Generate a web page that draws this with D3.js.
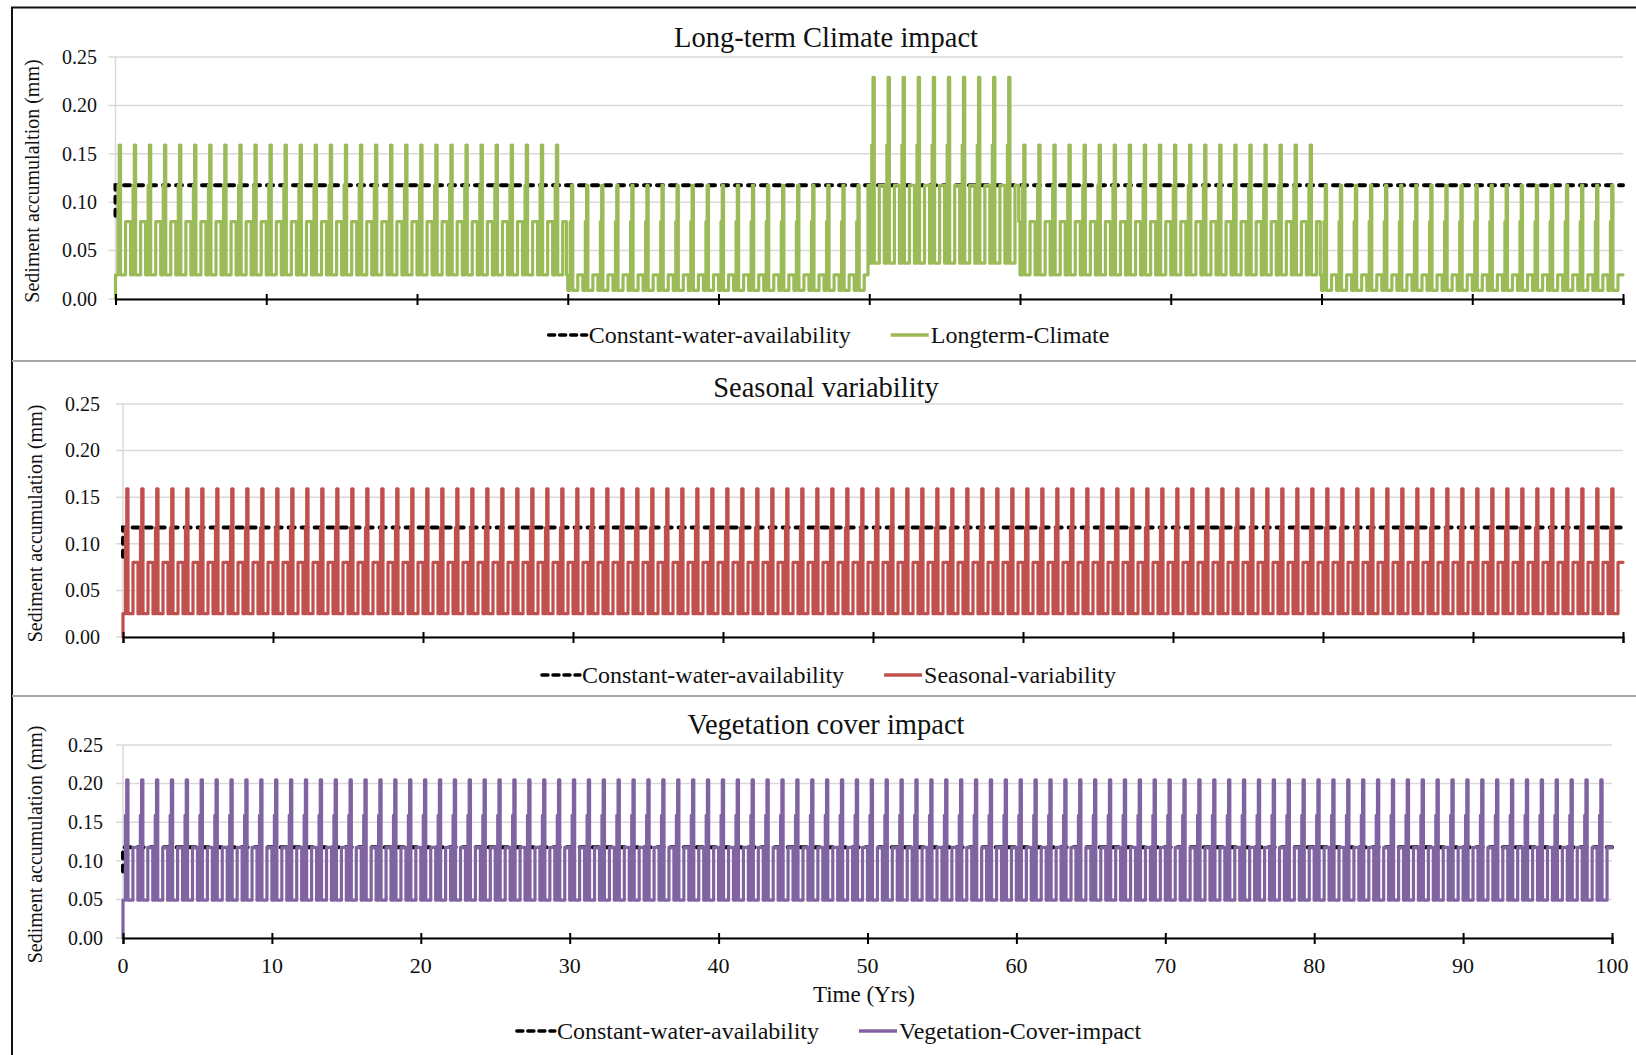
<!DOCTYPE html>
<html>
<head>
<meta charset="utf-8">
<script src="https://cdn.jsdelivr.net/npm/d3@7"></script>
<style>
  body { margin: 0; background: #fff; }
  svg { display: block; }
  text { font-family: "Liberation Serif", "Times New Roman", serif; fill: #111; }
</style>
</head>
<body>
<div id="chart"></div>
<script>
// axis ticks
const yearTicks = [0, 10, 20, 30, 40, 50, 60, 70, 80, 90, 100];
const sedimentTicks = [0, 0.05, 0.10, 0.15, 0.20, 0.25];

// one year of monthly samples, as level names
// L = dry low, M = plateau, S = shoulder, P = peak
const monthPattern = ["M", "L", "L", "S", "P", "L", "L", "L", "L", "M", "M", "M"];

// level values (mm) in the order L, M, S, P
const seasonalLevels = [0.025, 0.080, 0.1175, 0.159];
const dryLevels = [0.009, 0.025, 0.080, 0.1175];
const wetLevels = [0.037, 0.1175, 0.159, 0.229];
const vegetationLevels = [0.049, 0.1175, 0.159, 0.205];

// long-term climate: start year of each regime and which levels it uses
const climateBreaks = [0, 30, 50, 60, 80];
const climateRegimes = ["seasonal", "dry", "wet", "seasonal", "dry"];

const constantWater = 0.1175;
const constantStart = 0.086;
const firstValue = 0;
const nYears = 100;

const levelSets = { seasonal: seasonalLevels, dry: dryLevels, wet: wetLevels, vegetation: vegetationLevels };
const levelIndex = { L: 0, M: 1, S: 2, P: 3 };

function buildSeries(regimeOf) {
  const out = [{ t: 0, v: firstValue }];
  for (let k = 1; k <= nYears * 12; k++) {
    const yr = Math.min(Math.floor(k / 12), nYears - 1);
    const lv = levelSets[regimeOf(yr)];
    out.push({ t: k / 12, v: lv[levelIndex[monthPattern[k % 12]]] });
  }
  return out;
}
function buildConstant() {
  const out = [{ t: 0, v: constantStart }];
  for (let k = 1; k <= nYears * 12; k++) out.push({ t: k / 12, v: constantWater });
  return out;
}
function climateRegime(yr) {
  let r = climateRegimes[0];
  climateBreaks.forEach((b, i) => { if (yr >= b) r = climateRegimes[i]; });
  return r;
}

const constantSeries = buildConstant();
const climateSeries = buildSeries(climateRegime);
const seasonalSeries = buildSeries(() => "seasonal");
const vegetationSeries = buildSeries(() => "vegetation");

const width = 1636, height = 1055;
const svg = d3.select("#chart").append("svg")
  .attr("width", width).attr("height", height);

// outer frame and separators
svg.append("line").attr("x1", 11).attr("x2", width).attr("y1", 7.5).attr("y2", 7.5)
  .attr("stroke", "#111").attr("stroke-width", 2);
svg.append("line").attr("x1", 12).attr("x2", 12).attr("y1", 7).attr("y2", height)
  .attr("stroke", "#111").attr("stroke-width", 2);
[361, 696].forEach(y => svg.append("line").attr("x1", 12).attr("x2", width)
  .attr("y1", y).attr("y2", y).attr("stroke", "#a6a6a6").attr("stroke-width", 2));

const panels = [
  { x0: 115.5, x1: 1623, yTop: 57, yBot: 299, title: "Long-term Climate impact", titleY: 37,
    yTitle: "Sediment accumulaltion (mm)", yTitleX: 32, yLabelX: 97, legendY: 335,
    series: climateSeries, color: "#9bbb59", name: "Longterm-Climate", xLabels: false },
  { x0: 123, x1: 1623, yTop: 404, yBot: 637, title: "Seasonal variability", titleY: 387,
    yTitle: "Sediment accumulation (mm)", yTitleX: 35, yLabelX: 100, legendY: 675,
    series: seasonalSeries, color: "#c0504d", name: "Seasonal-variability", xLabels: false },
  { x0: 123, x1: 1612, yTop: 745, yBot: 938, title: "Vegetation cover impact", titleY: 724,
    yTitle: "Sediment accumulation (mm)", yTitleX: 35, yLabelX: 103, legendY: 1031,
    series: vegetationSeries, color: "#8064a2", name: "Vegetation-Cover-impact", xLabels: true }
];

const dash = "6 7";

panels.forEach(p => {
  const x = d3.scaleLinear().domain([0, 100]).range([p.x0, p.x1]);
  const y = d3.scaleLinear().domain([0, 0.25]).range([p.yBot, p.yTop]);
  const g = svg.append("g");

  // gridlines + y ticks
  g.selectAll("line.grid").data(sedimentTicks).join("line")
    .attr("x1", p.x0 - 7).attr("x2", p.x1)
    .attr("y1", d => y(d)).attr("y2", d => y(d))
    .attr("stroke", "#d9d9d9").attr("stroke-width", 1.5);
  g.append("line").attr("x1", p.x0).attr("x2", p.x0).attr("y1", p.yTop).attr("y2", p.yBot)
    .attr("stroke", "#d9d9d9").attr("stroke-width", 1.5);
  g.selectAll("text.ylab").data(sedimentTicks).join("text")
    .attr("x", p.yLabelX).attr("y", d => y(d)).attr("dy", "0.34em")
    .attr("text-anchor", "end").style("font-size", "20px")
    .text(d => d3.format(".2f")(d));

  // y title
  g.append("text")
    .attr("transform", `translate(${p.yTitleX},${(p.yTop + p.yBot) / 2 + 3}) rotate(-90)`)
    .attr("text-anchor", "middle").attr("dy", "0.35em").style("font-size", "20px")
    .text(p.yTitle);

  // title
  g.append("text").attr("x", 826).attr("y", p.titleY).attr("dy", "0.35em")
    .attr("text-anchor", "middle").style("font-size", "28.5px").text(p.title);

  // series
  const line = d3.line().curve(d3.curveStepBefore).x(d => x(d.t)).y(d => y(d.v));
  g.append("path").datum(constantSeries).attr("d", line)
    .attr("fill", "none").attr("stroke", "#000").attr("stroke-width", 4)
    .attr("stroke-dasharray", dash).attr("stroke-linecap", "round");
  g.append("path").datum(p.series).attr("d", line)
    .attr("fill", "none").attr("stroke", p.color).attr("stroke-width", 3.2)
    .attr("stroke-linejoin", "round").attr("stroke-linecap", "round");

  // x axis
  const xAxis = g.append("g").attr("transform", `translate(0,${p.yBot})`)
    .call(d3.axisBottom(x).tickValues(yearTicks).tickSize(6).tickFormat(""));
  xAxis.select(".domain").attr("stroke", "#000").attr("stroke-width", 2);
  xAxis.selectAll(".tick line").attr("y1", -5).attr("y2", 6).attr("stroke", "#000").attr("stroke-width", 2);

  if (p.xLabels) {
    g.selectAll("text.xlab").data(yearTicks).join("text")
      .attr("x", d => x(d)).attr("y", 965).attr("dy", "0.35em")
      .attr("text-anchor", "middle").style("font-size", "22px").text(d => d);
    g.append("text").attr("x", 864).attr("y", 994).attr("dy", "0.35em")
      .attr("text-anchor", "middle").style("font-size", "23px").text("Time (Yrs)");
  }

  // legend
  const items = [
    { label: "Constant-water-availability", color: "#000", dashed: true },
    { label: p.name, color: p.color, dashed: false }
  ];
  const lg = g.append("g");
  let cx = 0;
  items.forEach((it, i) => {
    if (i > 0) cx += 38;
    const ig = lg.append("g");
    ig.append("line").attr("x1", cx + 2).attr("x2", cx + 40).attr("y1", p.legendY).attr("y2", p.legendY)
      .attr("stroke", it.color).attr("stroke-width", 3.5)
      .attr("stroke-dasharray", it.dashed ? "6 5" : null)
      .attr("stroke-linecap", it.dashed ? "round" : "butt");
    const t = ig.append("text").attr("x", cx + 42).attr("y", p.legendY).attr("dy", "0.33em")
      .style("font-size", "24px").text(it.label);
    cx += 42 + t.node().getComputedTextLength();
  });
  lg.attr("transform", `translate(${828 - cx / 2},0)`);
});
</script>
</body>
</html>
